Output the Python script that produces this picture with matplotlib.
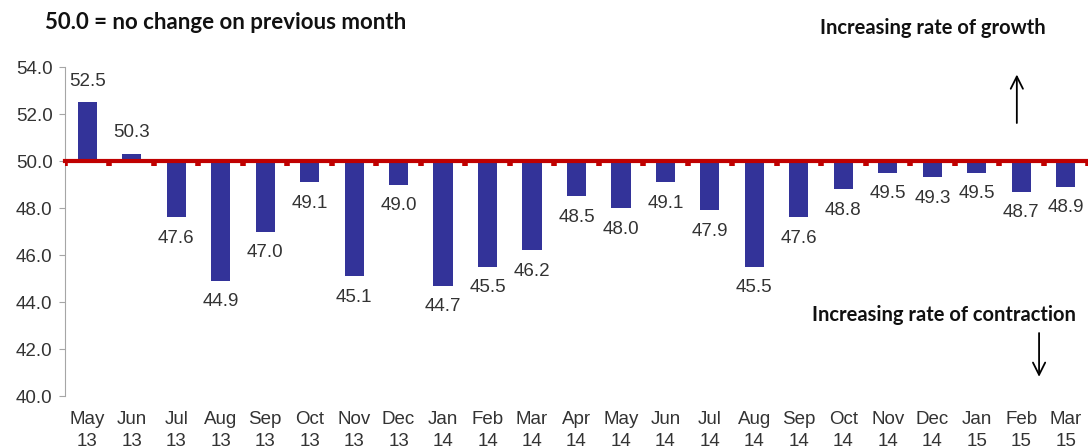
import matplotlib.pyplot as plt

# Monthly index values (50.0 = no change)
months = ['May', 'Jun', 'Jul', 'Aug', 'Sep', 'Oct', 'Nov', 'Dec', 'Jan', 'Feb', 'Mar', 'Apr',
          'May', 'Jun', 'Jul', 'Aug', 'Sep', 'Oct', 'Nov', 'Dec', 'Jan', 'Feb', 'Mar']
years = ['13', '13', '13', '13', '13', '13', '13', '13', '14', '14', '14', '14',
         '14', '14', '14', '14', '14', '14', '14', '14', '15', '15', '15']
values = [52.5, 50.3, 47.6, 44.9, 47.0, 49.1, 45.1, 49.0, 44.7, 45.5, 46.2, 48.5,
          48.0, 49.1, 47.9, 45.5, 47.6, 48.8, 49.5, 49.3, 49.5, 48.7, 48.9]
baseline = 50.0

bar_color = '#333399'
line_color = '#C00000'
text_color = '#333333'

plt.rcParams['font.family'] = ['Liberation Sans', 'DejaVu Sans']

fig = plt.figure(figsize=(10.88, 4.47), dpi=100)
ax = fig.add_axes([0.0597, 0.114, 0.9403, 0.736])

x = list(range(len(values)))
heights = [v - baseline for v in values]
ax.bar(x, heights, bottom=baseline, width=0.43, color=bar_color, zorder=2)

# value labels above / below the bars
for i, v in enumerate(values):
    if v >= baseline:
        ax.annotate(f'{v:.1f}', (i, v), xytext=(0, 9), textcoords='offset points',
                    ha='center', va='bottom', fontsize=13.5, color=text_color)
    else:
        ax.annotate(f'{v:.1f}', (i, v), xytext=(0, -9), textcoords='offset points',
                    ha='center', va='top', fontsize=13.5, color=text_color)

# red 50 line with tick marks at category boundaries
ax.axhline(baseline, color=line_color, lw=3, zorder=3, clip_on=False)
bounds = [i - 0.5 for i in range(len(values) + 1)]
ax.vlines(bounds, baseline - 0.2, baseline, color=line_color, lw=4, zorder=3)

ax.set_xlim(-0.5, len(values) - 0.5)
ax.set_ylim(40, 54)
ax.set_yticks([40, 42, 44, 46, 48, 50, 52, 54])
ax.set_yticklabels([f'{t:.1f}' for t in ax.get_yticks()])

ax.set_xticks(x)
ax.set_xticklabels([f'{m}\n{y}' for m, y in zip(months, years)], linespacing=1.35)

for side in ['top', 'right', 'bottom']:
    ax.spines[side].set_visible(False)
ax.spines['left'].set_color('#A6A6A6')
ax.tick_params(axis='y', direction='out', length=4, color='#A6A6A6',
               labelsize=13.5, labelcolor=text_color, pad=5)
ax.tick_params(axis='x', length=0, labelsize=13.5, labelcolor=text_color, pad=11)

# title and annotations
bold_font = ['Lato', 'DejaVu Sans']
fig.text(0.041, 0.95, '50.0 = no change on previous month', fontsize=16,
         fontweight='bold', family=bold_font, va='center', color='#111111')
fig.text(0.857, 0.938, 'Increasing rate of growth', fontsize=14.5, fontweight='bold',
         family=bold_font, ha='center', va='center', color='#111111')
fig.text(0.868, 0.295, 'Increasing rate of contraction', fontsize=14.5, fontweight='bold',
         family=bold_font, ha='center', va='center', color='#111111')

ax.annotate('', xy=(20.9, 53.8), xytext=(20.9, 51.5),
            arrowprops=dict(arrowstyle='->', color='black', lw=1.3, mutation_scale=22),
            annotation_clip=False)
ax.annotate('', xy=(21.4, 40.7), xytext=(21.4, 42.8),
            arrowprops=dict(arrowstyle='->', color='black', lw=1.3, mutation_scale=22),
            annotation_clip=False)

fig.savefig('out.png', dpi=100)
